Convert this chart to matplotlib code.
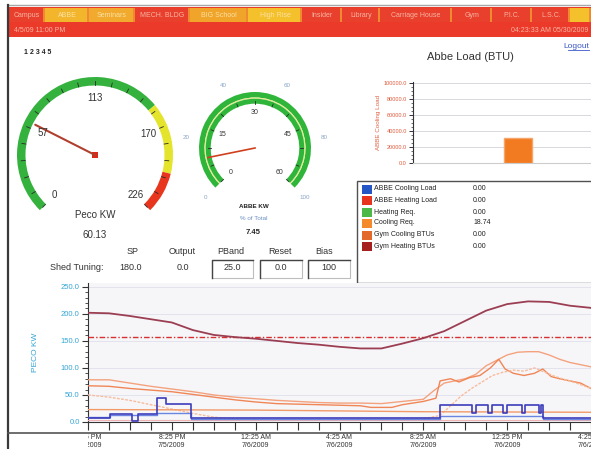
import numpy as np
import matplotlib.pyplot as plt
from matplotlib.patches import Wedge, Rectangle

plt.rcParams['font.family'] = ['Liberation Sans', 'DejaVu Sans']

W, H = 591, 449

# ---------------- data ----------------
tab_names = ['Campus', 'ABBE', 'Seminars', 'MECH. BLDG', 'BIG School', 'High Rise',
             'Insider', 'Library', 'Carriage House', 'Gym', 'P.I.C.', 'L.S.C.', '']
header_left = '4/5/09 11:00 PM'
header_right = '04:23:33 AM 05/30/2009'

peco_labels = [0, 57, 113, 170, 226]
peco_bands = [0, 155, 200, 226]
peco_kw = 60.13

abbe_inner = [0, 15, 30, 45, 60]
abbe_outer = [0, 20, 40, 60, 80, 100]
abbe_kw = 7.45

tuning_cols = ['SP', 'Output', 'PBand', 'Reset', 'Bias']
tuning_vals = ['180.0', '0.0', '25.0', '0.0', '100']

legend_names = ['ABBE Cooling Load', 'ABBE Heating Load', 'Heating Req.',
                'Cooling Req.', 'Gym Cooling BTUs', 'Gym Heating BTUs']
legend_vals = [0.00, 0.00, 0.00, 18.74, 0.00, 0.00]

load_cats = ['Cooling Req.']
load_vals = [31000]
load_ticks = [0, 20000, 40000, 60000, 80000, 100000]

# trend, hours after 4:25 PM 7/5/2009
time_labels = ['4:25 PM\n7/5/2009', '8:25 PM\n7/5/2009', '12:25 AM\n7/6/2009',
               '4:25 AM\n7/6/2009', '8:25 AM\n7/6/2009', '12:25 PM\n7/6/2009',
               '4:25 PM\n7/6/2009']

peco_t = [0, 1, 2, 3, 4, 5, 6, 7, 8, 9, 10, 11, 12, 13, 14, 15, 16, 17, 18, 19, 20, 21, 22, 23, 24]
peco_v = [202, 201, 196, 190, 184, 170, 161, 157, 154, 150, 146, 143, 139, 136, 136, 145,
          155, 168, 187, 206, 218, 223, 222, 215, 211]

sp_t = [0, 24]
sp_v = [157, 157]

o1_t = [0, 1, 2, 3, 4, 5, 6, 7, 8, 9, 10, 11, 12, 13, 14, 15, 16, 16.5, 17, 17.5, 18, 18.5,
        19, 19.5, 20, 20.5, 21, 21.5, 22, 22.5, 23, 24]
o1_v = [78, 78, 72, 66, 61, 56, 50, 46, 43, 40, 38, 36, 35, 35, 34, 38, 42, 58, 72, 76, 80, 88,
        104, 114, 124, 129, 130, 130, 124, 116, 110, 102]

o2_t = [0, 1, 2, 3, 4, 5, 6, 7, 8, 9, 10, 11, 12, 13, 13.5, 14.5, 15, 16, 16.6, 16.8, 17.3, 17.7,
        18.2, 18.7, 19.2, 19.6, 19.9, 20.3, 20.8, 21.3, 21.7, 22.1, 22.5, 23, 23.5, 24]
o2_v = [67, 66, 62, 59, 56, 51, 46, 41, 37, 34, 33, 32, 31, 30, 27, 27, 32, 38, 44, 76, 80, 74,
        82, 86, 100, 116, 98, 90, 86, 90, 98, 84, 80, 76, 72, 62]

o3_t = [0, 1, 2, 3, 4, 5, 6, 7, 8, 12, 16, 16.8, 17.3, 17.8, 18.3, 18.8, 19.3, 19.8, 20.3, 20.8,
        21.3, 21.8, 22.3, 22.8, 23.3, 24]
o3_v = [50, 46, 40, 32, 24, 16, 9, 6, 5, 5, 6, 12, 30, 48, 62, 74, 86, 92, 96, 94,
        100, 92, 84, 78, 72, 62]

ht_t = [0, 8, 16, 24]
ht_v = [23, 22, 19, 18]

pink_t = [0, 24]
pink_v = [3, 3]

blue_t = [0, 1.05, 2.1, 2.4, 3.3, 3.7, 4.9, 16.8, 18.3, 18.5, 19.1, 19.3, 19.8, 20.0, 20.7,
          20.85, 21.5, 21.6, 21.7, 24]
blue_v = [7, 15, 2, 15, 45, 34, 7, 31, 16, 31, 16, 31, 16, 31, 16, 31, 16, 31, 7, 7]

lblue_t = [0, 1.05, 3.3, 4.9, 16.8, 21.7, 24]
lblue_v = [9, 13, 17, 5, 11, 5, 5]

# ---------------- figure ----------------
fig = plt.figure(figsize=(W / 100, H / 100), dpi=100)
bg = fig.add_axes([0, 0, 1, 1])
bg.set_xlim(0, W)
bg.set_ylim(0, H)
bg.axis('off')


def pt(x, y):
    # screen pixel (y down) -> bg coords
    return x, H - y


def ang(v, vmax):
    return 225 - 270 * v / vmax


def polar(c, r, a):
    return c[0] + r * np.cos(np.radians(a)), c[1] + r * np.sin(np.radians(a))


# frame
bg.plot([8, 591], [H - 5, H - 5], color='#a8a8a8', lw=1)
bg.plot([8, 8], [H - 5, 0], color='#3a3a3a', lw=1.6)
bg.plot([8, 591], [H - 433, H - 433], color='#555555', lw=1.2)

# header
bg.add_patch(Rectangle(pt(9, 37), 582, 30, color='#ec3a2a', lw=0))
tab_x = [9, 45, 89, 135, 190, 248, 302, 342, 380, 452, 492, 532, 570, 591]
tab_col = ['#e8402c', '#f3b52c', '#f1aa2e', '#e8402c', '#f0a42a', '#f4c02c', '#e8402c',
           '#e8402c', '#e8402c', '#e8402c', '#e8402c', '#e8402c', '#f4c02c']
for i, name in enumerate(tab_names):
    x0, x1 = tab_x[i], tab_x[i + 1]
    bg.add_patch(Rectangle(pt(x0, 22), x1 - x0 - 2, 14, color=tab_col[i], lw=0))
    bg.add_patch(Rectangle(pt(x1 - 2, 22), 2, 14, color='#f08a30', lw=0))
    tc = '#f7b4a4' if tab_col[i] == '#e8402c' else '#f9e2a2'
    bg.text(*pt((x0 + x1) / 2, 15.5), name, fontsize=5, color=tc, ha='center', va='center')
bg.text(*pt(14, 30), header_left, fontsize=5, color='#f7b4a4', ha='left', va='center')
bg.text(*pt(588, 30), header_right, fontsize=5, color='#f7b4a4', ha='right', va='center')

bg.text(*pt(24, 53), '1 2 3 4 5', fontsize=5, color='#222222', ha='left', va='center',
        fontweight='bold')

# big gauge
gc = pt(95, 155)
band_colors = ['#35b23e', '#e4e42c', '#e8361e']
for v0, v1, c in zip(peco_bands[:-1], peco_bands[1:], band_colors):
    bg.add_patch(Wedge(gc, 78, ang(v1, 226), ang(v0, 226), width=8.5, color=c, lw=0))
for v in np.linspace(0, 226, 21):
    a = ang(v, 226)
    p0, p1 = polar(gc, 70, a), polar(gc, 74, a)
    bg.plot([p0[0], p1[0]], [p0[1], p1[1]], color='#2a2a2a', lw=0.6)
for v in peco_labels:
    bg.text(*polar(gc, 57, ang(v, 226)), str(v), fontsize=7, color='#333333',
            ha='center', va='center')
tip = polar(gc, 67, ang(peco_kw, 226))
bg.plot([gc[0], tip[0]], [gc[1], tip[1]], color='#b0402e', lw=1.5, solid_capstyle='round')
bg.add_patch(Rectangle((gc[0] - 3, gc[1] - 3), 6, 6, color='#d82a1a', lw=0))
bg.text(*pt(95, 215), 'Peco KW', fontsize=7, color='#333333', ha='center', va='center')
bg.text(*pt(95, 235), f'{peco_kw:.2f}', fontsize=7, color='#333333', ha='center', va='center')

# small gauge
sc = pt(255, 148)
bg.add_patch(Wedge(sc, 56, -45, 225, width=5.5, color='#2fb63a', lw=0))
bg.add_patch(Wedge(sc, 50.5, -45, 225, width=1.2, color='#e6ea8a', lw=0))
bg.add_patch(Wedge(sc, 49.3, -45, 225, width=5, color='#2fb63a', lw=0))
for v in np.linspace(0, 60, 13):
    a = ang(v, 60)
    p0, p1 = polar(sc, 44.5, a), polar(sc, 47.5, a)
    bg.plot([p0[0], p1[0]], [p0[1], p1[1]], color='#2a2a2a', lw=0.6)
for v in abbe_inner:
    bg.text(*polar(sc, 35, ang(v, 60)), str(v), fontsize=5, color='#333333',
            ha='center', va='center')
for v in abbe_outer:
    bg.text(*polar(sc, 70, ang(v, 100)), str(v), fontsize=4.5, color='#8aa6c6',
            ha='center', va='center')
tip = polar(sc, 48, ang(abbe_kw, 60))
bg.plot([sc[0], tip[0]], [sc[1], tip[1]], color='#d0401e', lw=1.2)
bg.text(*pt(254, 207), 'ABBE KW', fontsize=4.5, color='#222222', ha='center', va='center',
        fontweight='bold')
bg.text(*pt(254, 218), '% of Total', fontsize=4.5, color='#6c92c2', ha='center', va='center')
bg.text(*pt(253, 232), f'{abbe_kw:.2f}', fontsize=5.5, color='#222222', ha='center',
        va='center', fontweight='bold')

# shed tuning table
col_x = [133, 182, 231, 280, 324]
val_x = [131, 183, 232, 281, 329]
boxes = [None, None, (212, 253), (260, 302), (308, 350)]
bg.text(*pt(77, 268), 'Shed Tuning:', fontsize=6.5, color='#333333', ha='center', va='center')
for name, val, cx, vx, bx in zip(tuning_cols, tuning_vals, col_x, val_x, boxes):
    bg.text(*pt(cx, 252), name, fontsize=6.5, color='#333333', ha='center', va='center')
    bg.text(*pt(vx, 268), val, fontsize=6.5, color='#333333', ha='center', va='center')
    if bx:
        x0, x1 = bx
        bg.add_patch(Rectangle(pt(x0, 278), x1 - x0, 18, fill=False, ec='#bdbdbd', lw=0.8))
        bg.plot([x0, x0, x1], [H - 278, H - 260, H - 260], color='#444444', lw=1)

# load title and logout
bg.text(*pt(470, 57), 'Abbe Load (BTU)', fontsize=8, color='#333333', ha='center', va='center')
bg.text(*pt(589, 46), 'Logout', fontsize=6, color='#3a58c8', ha='right', va='center')
bg.plot([568, 589], [H - 50, H - 50], color='#3a58c8', lw=0.6)

# legend box
bg.add_patch(Rectangle(pt(357, 283), 240, 102, fill=False, ec='#505050', lw=1))
sq_colors = ['#2456c6', '#e8341e', '#4cb848', '#f48a2c', '#e26a2a', '#a62020']
row_y = [189, 200, 212, 223, 235, 246]
for name, val, c, y in zip(legend_names, legend_vals, sq_colors, row_y):
    bg.add_patch(Rectangle(pt(362, y + 4.5), 10, 9, color=c, lw=0))
    bg.text(*pt(374, y), name, fontsize=5, color='#222222', ha='left', va='center')
    bg.text(*pt(473, y), f'{val:.2f}', fontsize=5, color='#222222', ha='left', va='center')

# bar chart
bax = fig.add_axes([413 / W, (H - 163) / H, (W - 413) / W, 81 / H])
bax.bar(load_cats, load_vals, width=0.157, color='#f27a20', edgecolor='#f6a46a', lw=1,
        zorder=3)
bax.set_xlim(-0.59, 0.41)
bax.set_ylim(0, 101000)
bax.set_yticks(load_ticks)
bax.set_yticklabels([f'{v:.1f}' for v in load_ticks], fontsize=4, color='#e05838')
bax.set_yticks(np.arange(0, 100001, 5000), minor=True)
bax.set_xticks([])
bax.grid(axis='y', color='#d8d8e2', lw=0.7, zorder=0)
for s in ['top', 'right']:
    bax.spines[s].set_visible(False)
bax.spines['bottom'].set_color('#cccccc')
bax.spines['left'].set_color('#333333')
bax.tick_params(axis='y', which='major', length=3, width=0.7, pad=1.5, color='#333333')
bax.tick_params(axis='y', which='minor', length=1.5, width=0.5, color='#333333')
bax.set_ylabel('ABBE Cooling Load', fontsize=4.5, color='#e06040', labelpad=2)

# trend chart
ax = fig.add_axes([88 / W, (H - 422) / H, (W - 88) / W, 139 / H])
ax.set_facecolor('#f6f6f9')
ax.plot(peco_t, peco_v, color='#9c3e52', lw=1.3, zorder=5)
ax.plot(sp_t, sp_v, color='#d83030', lw=1, ls=(0, (4, 1.5, 1, 1.5)), zorder=4)
ax.plot(o1_t, o1_v, color='#f4a27e', lw=1, zorder=3)
ax.plot(o2_t, o2_v, color='#f08656', lw=1, zorder=3)
ax.plot(o3_t, o3_v, color='#f6bc9c', lw=1, ls=(0, (2, 1)), zorder=3)
ax.plot(ht_t, ht_v, color='#f29a68', lw=1, zorder=3)
ax.plot(pink_t, pink_v, color='#f0b4b4', lw=0.8, zorder=3)
ax.plot(lblue_t, lblue_v, color='#6a86e0', lw=1, drawstyle='steps-post', zorder=4)
ax.plot(blue_t, blue_v, color='#3c3cbc', lw=1.2, drawstyle='steps-post', zorder=4)
ax.set_xlim(0, 24)
ax.set_ylim(0, 257)
ax.set_yticks([0, 50, 100, 150, 200, 250])
ax.set_yticklabels(['0.0', '50.0', '100.0', '150.0', '200.0', '250.0'], fontsize=5.5,
                   color='#34a6d6')
ax.set_yticks(np.arange(0, 251, 10), minor=True)
ax.set_xticks(np.arange(0, 25, 1))
ax.set_xticklabels([])
ax.set_xticks(np.arange(0, 25, 2), minor=True)
ax.tick_params(axis='x', which='major', length=6, width=0.8, color='#333333')
ax.tick_params(axis='x', which='minor', length=0)
ax.tick_params(axis='y', which='major', length=4, width=0.8, color='#333333', pad=2)
ax.tick_params(axis='y', which='minor', length=2, width=0.6, color='#333333')
ax.grid(axis='y', which='major', color='#e0e0ec', lw=0.6)
ax.grid(axis='x', which='minor', color='#e4e4ee', lw=0.6)
for s in ['top', 'right']:
    ax.spines[s].set_visible(False)
ax.spines['left'].set_color('#333333')
ax.spines['bottom'].set_color('#333333')
ax.set_ylabel('PECO KW', fontsize=6, color='#34a6d6', labelpad=16)

# time labels under the separator, clipped at the plot's edges
lab = fig.add_axes([88 / W, 0, (W - 88) / W, 15 / H])
lab.set_xlim(0, 24)
lab.set_ylim(0, 1)
lab.axis('off')
for i, t in enumerate(time_labels):
    lab.text(i * 4, 0.5, t, fontsize=5, color='#333333', ha='center', va='center',
             linespacing=1.05, clip_on=True)

fig.savefig('out.png', dpi=100)
